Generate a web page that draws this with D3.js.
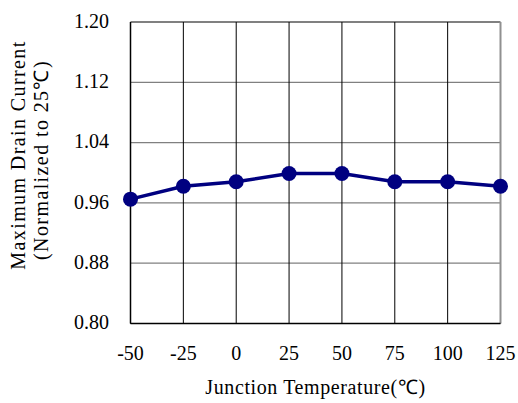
<!DOCTYPE html>
<html><head><meta charset="utf-8">
<script src="https://cdn.jsdelivr.net/npm/d3@7"></script>
<style>body{margin:0;background:#fff}svg{display:block}text{font-family:"Liberation Serif","Times New Roman",serif}</style>
</head><body>
<script>
const temps = [-50, -25, 0, 25, 50, 75, 100, 125];
const current = [0.965, 0.982, 0.988, 0.999, 0.999, 0.988, 0.988, 0.982];
const yTicks = [0.80, 0.88, 0.96, 1.04, 1.12, 1.20];
const xTitle = "Junction Temperature(℃)";
const yTitle = ["Maximum Drain Current", "(Normalized to 25℃)"];

const W = 518, H = 403;
const m = {l: 130.5, r: 500.5, t: 22, b: 323.5};
const svg = d3.select("body").append("svg").attr("width", W).attr("height", H);
const x = d3.scaleLinear().domain([-50, 125]).range([m.l, m.r]);
const y = d3.scaleLinear().domain([0.80, 1.20]).range([m.b, m.t]);

// horizontal grid
svg.append("g").selectAll("line").data(yTicks).join("line")
  .attr("x1", m.l).attr("x2", m.r).attr("y1", d => y(d)).attr("y2", d => y(d))
  .attr("stroke", "#808080").attr("stroke-width", d => d === 1.20 ? 2 : 1.2);
// vertical grid
svg.append("g").selectAll("line").data(temps).join("line")
  .attr("x1", d => x(d)).attr("x2", d => x(d)).attr("y1", m.t).attr("y2", m.b)
  .attr("stroke", (d, i) => i === temps.length - 1 ? "#909090" : "#000")
  .attr("stroke-width", (d, i) => i === temps.length - 1 ? 2 : 1);
// left & bottom frame
svg.append("line").attr("x1", m.l).attr("x2", m.l).attr("y1", m.t).attr("y2", m.b).attr("stroke", "#000").attr("stroke-width", 1.5);
svg.append("line").attr("x1", m.l).attr("x2", m.r).attr("y1", m.b).attr("y2", m.b).attr("stroke", "#000").attr("stroke-width", 1.5);

// y tick labels
svg.append("g").selectAll("text").data(yTicks).join("text")
  .attr("x", 109).attr("y", d => y(d)).attr("dy", "0.28em")
  .attr("text-anchor", "end").attr("font-size", 20)
  .text(d => d.toFixed(2));
// x tick labels
svg.append("g").selectAll("text").data(temps).join("text")
  .attr("x", d => x(d)).attr("y", 360)
  .attr("text-anchor", "middle").attr("font-size", 20)
  .text(d => d);
// x title
svg.append("text").attr("x", (m.l + m.r) / 2).attr("y", 394)
  .attr("text-anchor", "middle").attr("font-size", 20).attr("letter-spacing", 0.6).text(xTitle);
// y title
const yt = svg.append("text").attr("transform", `translate(0,155) rotate(-90)`)
  .attr("text-anchor", "middle").attr("font-size", 20).attr("letter-spacing", 1.4);
yt.append("tspan").attr("x", 0).attr("y", 25).text(yTitle[0]);
yt.append("tspan").attr("x", -5).attr("y", 48).text(yTitle[1]);

// line
const data = temps.map((t, i) => [t, current[i]]);
svg.append("path").datum(data)
  .attr("d", d3.line().x(d => x(d[0])).y(d => y(d[1])))
  .attr("fill", "none").attr("stroke", "#000080").attr("stroke-width", 3.5);
svg.append("g").selectAll("circle").data(data).join("circle")
  .attr("cx", d => x(d[0])).attr("cy", d => y(d[1])).attr("r", 7.5)
  .attr("fill", "#000080");
</script>
</body></html>
